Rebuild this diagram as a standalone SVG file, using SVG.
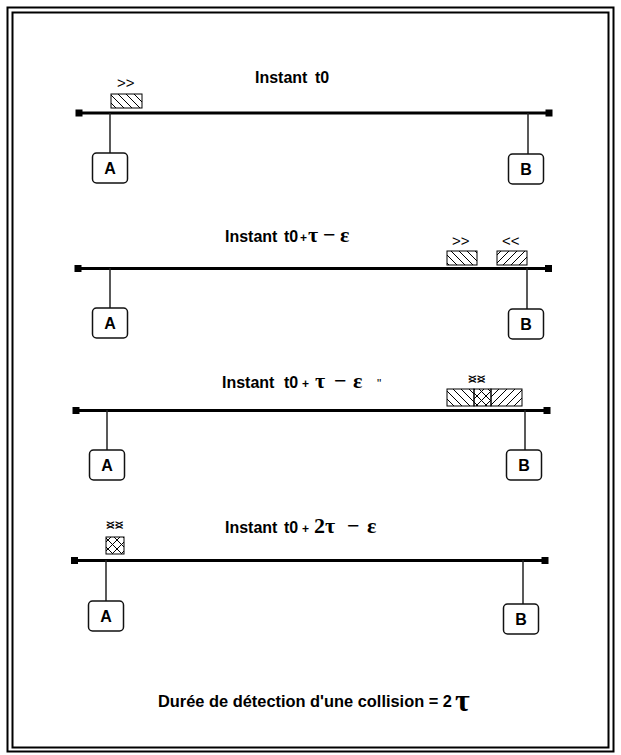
<svg xmlns="http://www.w3.org/2000/svg" width="621" height="755" viewBox="0 0 621 755">
<style>
.bus{stroke:#000;stroke-width:3;fill:none}
.drop{stroke:#222;stroke-width:1.5;fill:none}
.end{fill:#000}
.box{fill:#fff;stroke:#111;stroke-width:1.5}
.lbl{font-family:"Liberation Sans",Arial,sans-serif;font-weight:bold;font-size:16px;text-anchor:middle;fill:#000}
.ttl{font-family:"Liberation Sans",Arial,sans-serif;font-weight:bold;font-size:16px;fill:#000}
.plus{font-family:"Liberation Sans",Arial,sans-serif;font-weight:bold;font-size:12px;fill:#000}
.sym{font-family:"Liberation Serif","Times New Roman",serif;font-weight:bold;font-size:22px;fill:#000}
.arr{font-family:"Liberation Sans",Arial,sans-serif;font-size:15px;fill:#000}
.pk{stroke:#000;stroke-width:1}
</style>
<defs>
<pattern id="hb" patternUnits="userSpaceOnUse" width="8" height="8">
<path d="M0,0 L8,8 M-2,6 L2,10 M6,-2 L10,2" stroke="#000" stroke-width="1"/>
</pattern>
<pattern id="hf" patternUnits="userSpaceOnUse" width="8" height="8">
<path d="M0,8 L8,0 M-2,2 L2,-2 M6,10 L10,6" stroke="#000" stroke-width="1"/>
</pattern>
<pattern id="hx" patternUnits="userSpaceOnUse" width="9" height="9">
<path d="M0,0 L9,9 M0,9 L9,0" stroke="#000" stroke-width="1"/>
</pattern>
</defs>
<rect x="7.5" y="7.5" width="606" height="744" fill="#fff" stroke="#000" stroke-width="2"/>
<rect x="12.5" y="12.5" width="596" height="735" fill="none" stroke="#000" stroke-width="2"/>

<g id="connectors">
<line class="bus" x1="79" y1="113" x2="549" y2="113"/>
<line class="drop" x1="110" y1="113" x2="110" y2="153"/>
<line class="drop" x1="528" y1="113" x2="528" y2="154"/>
<line class="bus" x1="78" y1="268.5" x2="548.5" y2="268.5"/>
<line class="drop" x1="110" y1="268" x2="110" y2="308"/>
<line class="drop" x1="527" y1="268" x2="527" y2="309"/>
<line class="bus" x1="76" y1="410.5" x2="547" y2="410.5"/>
<line class="drop" x1="107" y1="410" x2="107" y2="450"/>
<line class="drop" x1="525" y1="410" x2="525" y2="450"/>
<line class="bus" x1="74.5" y1="560.5" x2="545" y2="560.5"/>
<line class="drop" x1="106" y1="560" x2="106" y2="601"/>
<line class="drop" x1="523" y1="560" x2="523" y2="604"/>
<rect class="end" x="75.5" y="109.5" width="7" height="7"/>
<rect class="end" x="545.5" y="109.5" width="7" height="7"/>
<rect class="end" x="74.5" y="265" width="7" height="7"/>
<rect class="end" x="545" y="265" width="7" height="7"/>
<rect class="end" x="72.5" y="407" width="7" height="7"/>
<rect class="end" x="543.5" y="407" width="7" height="7"/>
<rect class="end" x="71" y="557" width="7" height="7"/>
<rect class="end" x="541.5" y="557" width="7" height="7"/>
</g>

<g id="step1">
<text class="ttl" x="255" y="83">Instant<tspan x="315">t0</tspan></text>
<text class="arr" x="117" y="88">&gt;&gt;</text>
<rect class="pk" x="111" y="94" width="31" height="14" fill="url(#hb)"/>
<g id="A1"><rect class="box" x="92.5" y="153" width="35" height="30" rx="4"/><text class="lbl" x="110" y="174">A</text></g>
<g id="B1"><rect class="box" x="508.5" y="154" width="35" height="30" rx="4"/><text class="lbl" x="526" y="175">B</text></g>
</g>

<g id="step2">
<text class="ttl" x="225" y="242">Instant<tspan x="284">t0</tspan><tspan class="plus" x="300">+</tspan><tspan class="sym" x="308">τ</tspan><tspan class="sym" x="323">−</tspan><tspan class="sym" x="340">ε</tspan></text>
<text class="arr" x="452" y="246">&gt;&gt;</text>
<text class="arr" x="502" y="246">&lt;&lt;</text>
<rect class="pk" x="447" y="251" width="30" height="14" fill="url(#hb)"/>
<rect class="pk" x="497" y="251" width="30" height="14" fill="url(#hf)"/>
<g id="A2"><rect class="box" x="92.5" y="308" width="35" height="30" rx="4"/><text class="lbl" x="110" y="329">A</text></g>
<g id="B2"><rect class="box" x="508.5" y="309" width="35" height="30" rx="4"/><text class="lbl" x="526" y="330">B</text></g>
</g>

<g id="step3">
<text class="ttl" x="222" y="388">Instant<tspan x="284">t0</tspan><tspan class="plus" x="302">+</tspan><tspan class="sym" x="315">τ</tspan><tspan class="sym" x="334">−</tspan><tspan class="sym" x="353">ε</tspan><tspan class="plus" style="font-weight:normal" x="377">"</tspan></text>
<text class="arr" x="468" y="384">&gt;&gt;</text>
<text class="arr" x="468" y="384">&lt;&lt;</text>
<rect class="pk" x="447" y="389" width="27" height="17" fill="url(#hb)"/>
<rect class="pk" x="474" y="389" width="17" height="17" fill="url(#hx)"/>
<rect class="pk" x="491" y="389" width="31" height="17" fill="url(#hf)"/>
<g id="A3"><rect class="box" x="89.5" y="450" width="35" height="30" rx="4"/><text class="lbl" x="107" y="471">A</text></g>
<g id="B3"><rect class="box" x="506.5" y="450" width="35" height="30" rx="4"/><text class="lbl" x="524" y="471">B</text></g>
</g>

<g id="step4">
<text class="ttl" x="225" y="533">Instant<tspan x="284">t0</tspan><tspan class="plus" x="302">+</tspan><tspan class="sym" x="314">2τ</tspan><tspan class="sym" x="347">−</tspan><tspan class="sym" x="367">ε</tspan></text>
<text class="arr" x="106" y="530">&gt;&gt;</text>
<text class="arr" x="106" y="530">&lt;&lt;</text>
<rect class="pk" x="106" y="537" width="18" height="17" fill="url(#hx)"/>
<g id="A4"><rect class="box" x="88.5" y="601" width="35" height="30" rx="4"/><text class="lbl" x="106" y="622">A</text></g>
<g id="B4"><rect class="box" x="503.5" y="604" width="35" height="30" rx="4"/><text class="lbl" x="521" y="625">B</text></g>
</g>

<g id="caption">
<text class="ttl" style="font-size:16.4px" x="158" y="707">Durée de détection d'une collision = 2<tspan class="sym" style="font-size:32px" x="455" y="711">τ</tspan></text>
</g>
</svg>
